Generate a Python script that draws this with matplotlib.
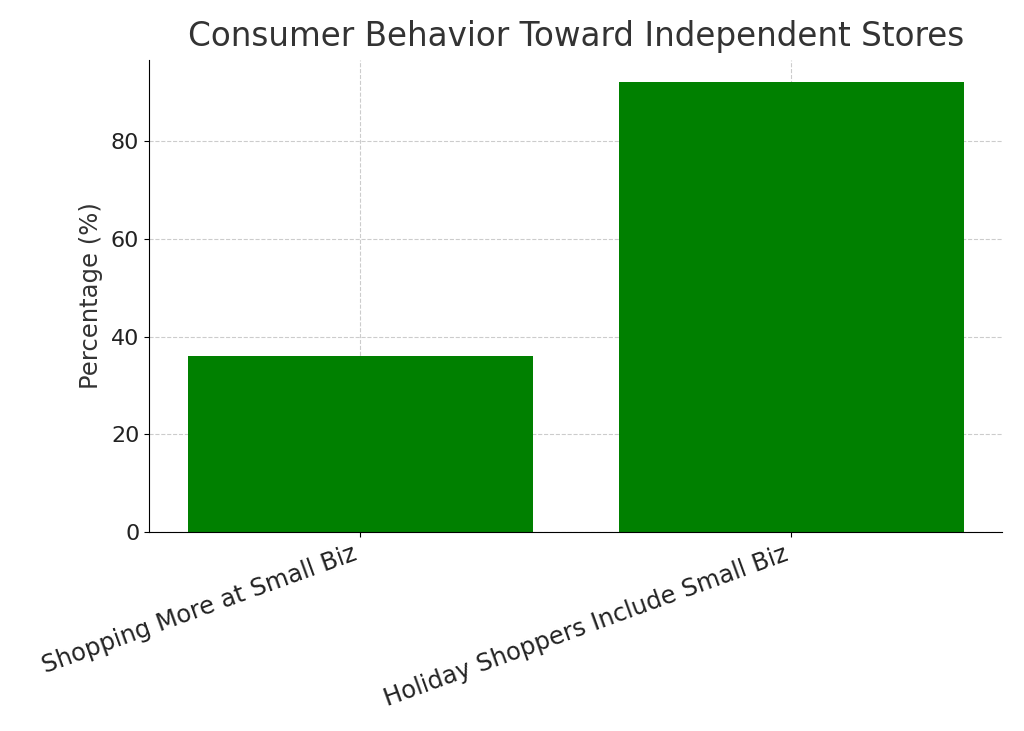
import matplotlib
matplotlib.use("Agg")
import matplotlib.pyplot as plt

categories = ["Shopping More at Small Biz", "Holiday Shoppers Include Small Biz"]
percentages = [36, 92]

plt.rcParams["font.family"] = ["DejaVu Sans"]
fig, ax = plt.subplots(figsize=(10.24, 7.31), dpi=100)

ax.bar(categories, percentages, color="green", width=0.8, zorder=2)

ax.set_title("Consumer Behavior Toward Independent Stores", fontsize=23.5,
             color="#333333", pad=10)
ax.set_ylabel("Percentage (%)", fontsize=17.5, color="#333333", labelpad=6)
ax.tick_params(axis="y", labelsize=16, labelcolor="#222222")
ax.tick_params(axis="x", labelsize=17.5, labelcolor="#222222")
plt.setp(ax.get_xticklabels(), rotation=20, ha="right")

ax.grid(True, linestyle="--", color="#cccccc", linewidth=0.8, zorder=0)
ax.spines["top"].set_visible(False)
ax.spines["right"].set_visible(False)

fig.subplots_adjust(left=0.1455, right=0.979, top=0.918, bottom=0.272)
fig.savefig("out.png", dpi=100)
